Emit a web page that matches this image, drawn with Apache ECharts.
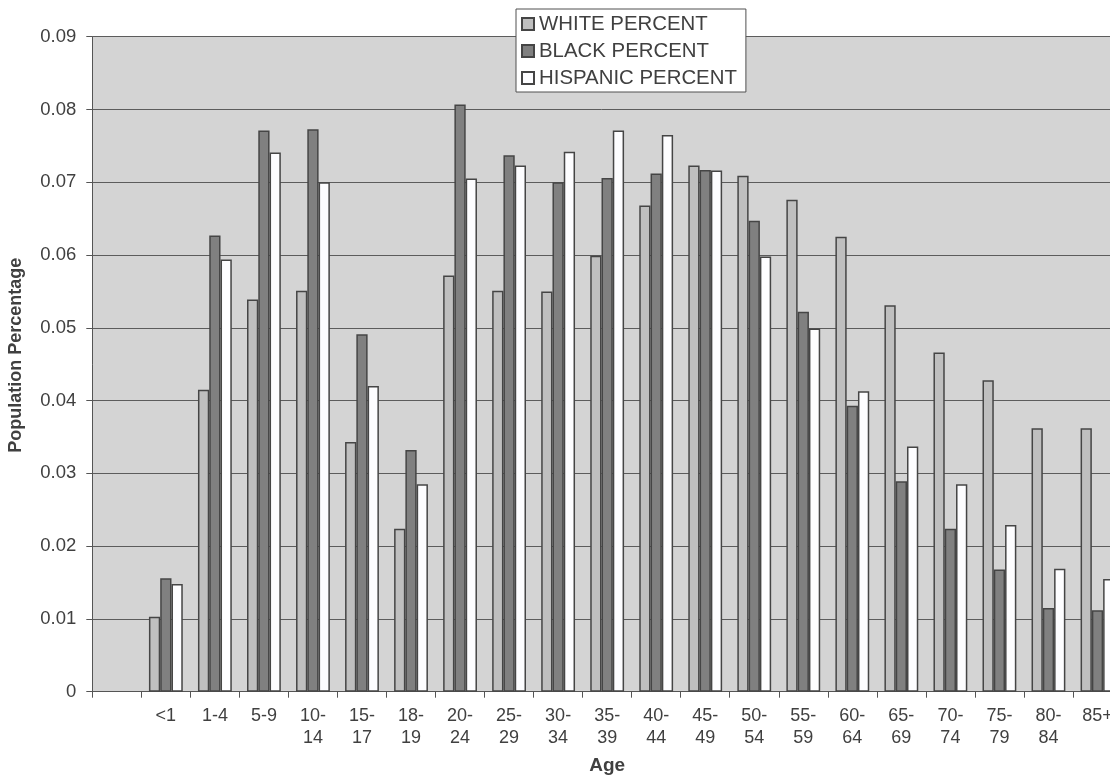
<!DOCTYPE html>
<html>
<head>
<meta charset="utf-8">
<script src="https://cdn.jsdelivr.net/npm/echarts@6/dist/echarts.min.js"></script>
<style>
html,body{margin:0;padding:0;background:#fff;}
#c{width:1110px;height:778px;}
</style>
</head>
<body>
<div id="c"></div>
<script>
const categories = ['', '<1', '1-4', '5-9', '10-\n14', '15-\n17', '18-\n19', '20-\n24', '25-\n29', '30-\n34', '35-\n39', '40-\n44', '45-\n49', '50-\n54', '55-\n59', '60-\n64', '65-\n69', '70-\n74', '75-\n79', '80-\n84', '85+'];
const whitePercent = [null, 0.0103, 0.0415, 0.0539, 0.0551, 0.0343, 0.0224, 0.0572, 0.0551, 0.0550, 0.0599, 0.0668, 0.0723, 0.0709, 0.0676, 0.0625, 0.0531, 0.0466, 0.0428, 0.0362, 0.0362];
const blackPercent = [null, 0.0156, 0.0627, 0.0771, 0.0773, 0.0491, 0.0332, 0.0807, 0.0737, 0.0700, 0.0706, 0.0712, 0.0717, 0.0647, 0.0522, 0.0393, 0.0289, 0.0224, 0.0168, 0.0115, 0.0112];
const hispanicPercent = [null, 0.0148, 0.0594, 0.0741, 0.0700, 0.0420, 0.0285, 0.0705, 0.0723, 0.0742, 0.0771, 0.0765, 0.0716, 0.0598, 0.0499, 0.0413, 0.0337, 0.0285, 0.0229, 0.0169, 0.0155];
const seriesNames = ['WHITE PERCENT', 'BLACK PERCENT', 'HISPANIC PERCENT'];
const yTicks = { min: 0, max: 0.09, interval: 0.01 };

const FONT = "'Liberation Sans', Arial, sans-serif";
const TXT = '#404040';
const EDGE = '#454545';

const chart = echarts.init(document.getElementById('c'), null, { renderer: 'canvas' });
function bar(name, data, color) {
  return {
    name: name, type: 'bar', data: data,
    barGap: '0%', barCategoryGap: '31%',
    itemStyle: { color: color, borderColor: EDGE, borderWidth: 1.5 },
    emphasis: { disabled: true }
  };
}
chart.setOption({
  animation: false,
  backgroundColor: '#ffffff',
  textStyle: { fontFamily: FONT },
  grid: { left: 92.3, right: -12, top: 36.7, bottom: 86.3, containLabel: false,
          outerBoundsMode: 'none',
          show: true, backgroundColor: '#d4d4d4', borderWidth: 0 },
  legend: {
    orient: 'vertical', left: 516, top: 9,
    backgroundColor: '#ffffff', borderColor: '#505050', borderWidth: 1,
    padding: [5, 9, 4, 5],
    itemWidth: 12, itemHeight: 12, itemGap: 7,
    textStyle: { fontFamily: FONT, fontSize: 20.4, color: TXT, lineHeight: 20 },
    data: seriesNames.map(n => ({ name: n, icon: 'rect' }))
  },
  xAxis: {
    type: 'category', data: categories,
    name: 'Age', nameLocation: 'middle', nameGap: 65,
    nameTextStyle: { fontFamily: FONT, fontSize: 19, fontWeight: 'bold', color: TXT },
    axisLine: { lineStyle: { color: '#555', width: 1 } },
    axisTick: { show: true, length: 6, lineStyle: { color: '#555' } },
    axisLabel: { fontFamily: FONT, fontSize: 18, color: TXT, lineHeight: 22, margin: 13, interval: 0 },
    splitLine: { show: false }
  },
  yAxis: {
    type: 'value', min: yTicks.min, max: yTicks.max, interval: yTicks.interval,
    name: 'Population Percentage', nameLocation: 'middle', nameGap: 67,
    nameTextStyle: { fontFamily: FONT, fontSize: 18, fontWeight: 'bold', color: TXT, padding: [0, 0, 0, 18] },
    axisLine: { show: true, lineStyle: { color: '#555', width: 1 } },
    axisTick: { show: true, length: 6, lineStyle: { color: '#555' } },
    axisLabel: { fontFamily: FONT, fontSize: 18.5, color: TXT, margin: 16,
      formatter: v => (v === 0 ? '0' : v.toFixed(2)) },
    splitLine: { show: true, lineStyle: { color: '#5c5c5c', width: 1 } }
  },
  series: [
    bar(seriesNames[0], whitePercent, '#bfbfbf'),
    bar(seriesNames[1], blackPercent, '#808080'),
    bar(seriesNames[2], hispanicPercent, '#fdfdff')
  ]
});
</script>
</body>
</html>
